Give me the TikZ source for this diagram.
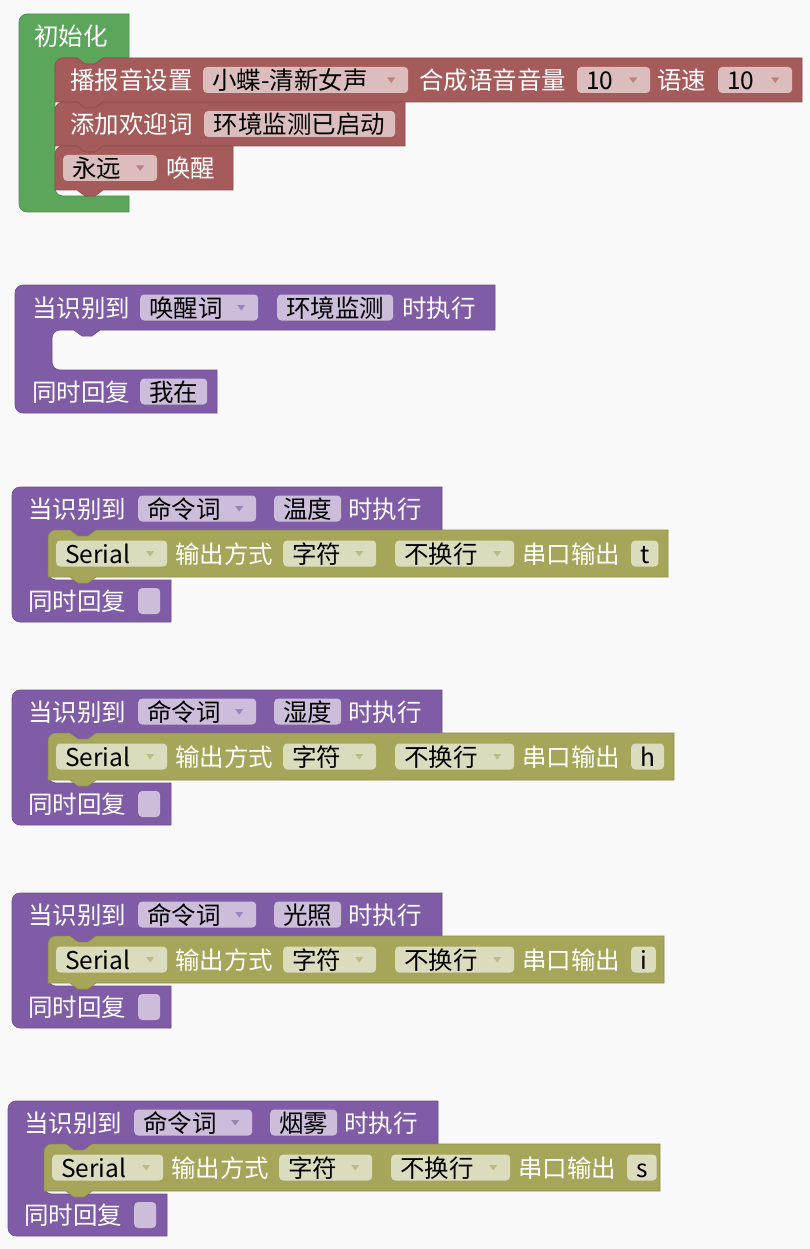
\documentclass[tikz,border=0pt]{standalone}
\usepackage{fontspec}
\setmainfont{Noto Sans CJK SC}
\usepackage{xcolor}
\usetikzlibrary{calc}

\definecolor{bgc}{HTML}{F9F9F9}
\definecolor{initgreen}{HTML}{5BA65B}
\definecolor{voicered}{HTML}{A65B5B}
\definecolor{asrpurple}{HTML}{805BA6}
\definecolor{serialolive}{HTML}{A6A65B}
\colorlet{redF}{voicered!40!white}
\colorlet{purpleF}{asrpurple!40!white}
\colorlet{oliveF}{serialolive!40!white}

\newcommand{\blockfont}{\fontsize{24.5pt}{28pt}\selectfont}

% C-shaped block: colour, left, top, top-bar right, top-bar bottom,
% inner left, inner bottom, bottom-bar right, bottom
\newcommand{\ctrblock}[9]{%
	\filldraw[#1] ({#2},{-#9+8}) -- ({#2},{-#3-8}) arc[start angle=180,end angle=90,radius=8]
	-- ({#4},{-#3}) -- ({#4},{-#5}) -- ({#6+48},{-#5}) -- ({#6+40},{-#5-6})
	-- ({#6+30},{-#5-6}) -- ({#6+22},{-#5}) -- ({#6+8},{-#5})
	arc[start angle=90,end angle=180,radius=8] -- ({#6},{-#7+8})
	arc[start angle=180,end angle=270,radius=8] -- ({#8},{-#7}) -- ({#8},{-#9})
	-- ({#2+8},{-#9}) arc[start angle=270,end angle=180,radius=8] -- cycle;}

% statement block: colour, left, top, right, bottom
\newcommand{\stmtblock}[5]{%
	\filldraw[#1] ({#2},{-#3-8}) arc[start angle=180,end angle=90,radius=8]
	-- ({#2+22},{-#3}) -- ({#2+30},{-#3-6}) -- ({#2+40},{-#3-6}) -- ({#2+48},{-#3})
	-- ({#4},{-#3}) -- ({#4},{-#5}) -- ({#2+48},{-#5}) -- ({#2+40},{-#5-6})
	-- ({#2+30},{-#5-6}) -- ({#2+22},{-#5}) -- ({#2},{-#5}) -- cycle;}

\tikzset{
	greenblk/.style={fill=initgreen, draw=initgreen!85!black, line width=0.6pt},
	redblk/.style={fill=voicered, draw=voicered!85!black, line width=0.6pt},
	purpleblk/.style={fill=asrpurple, draw=asrpurple!85!black, line width=0.6pt},
	oliveblk/.style={fill=serialolive, draw=serialolive!85!black, line width=0.6pt},
	lbl/.style={anchor=west, inner sep=0pt, text=white, font=\blockfont,
		text height=20pt, text depth=1pt},
	field/.style={anchor=west, rounded corners=4pt, minimum height=26pt,
		inner xsep=9pt, inner ysep=0pt, text height=20pt, text depth=1pt,
		font=\blockfont, text=black},
	dd/.style={field, align=left, path picture={
			\fill[#1, sharp corners] ([xshift=-21pt,yshift=2.5pt]path picture bounding box.east)
			-- ++(8pt,0pt) -- ++(-4pt,-5.5pt) -- cycle;}},
	redfield/.style={field, fill=redF},
	reddd/.style={dd=voicered!60!redF, fill=redF},
	purplefield/.style={field, fill=purpleF},
	purpledd/.style={dd=asrpurple!60!purpleF, fill=purpleF},
	olivefield/.style={field, fill=oliveF},
	olivedd/.style={dd=serialolive!60!oliveF, fill=oliveF}
}

\begin{document}
\begin{tikzpicture}[x=1pt, y=1pt]
	
	\fill[bgc] (0,0) rectangle (810,-1249);
	\useasboundingbox (0,0) rectangle (810,-1249);
	
	%% -- init block
	\ctrblock{greenblk}{19}{14}{129}{58}{55}{196}{129}{212}
	\stmtblock{redblk}{55}{58}{802}{102}
	\stmtblock{redblk}{55}{102}{405}{146}
	\stmtblock{redblk}{55}{146}{233}{190}
	
	\node[lbl] (init) at (34,-36) {初始化};
	
	\node[lbl] (tts) at (70,-80) {播报音设置};
	\node[reddd, text width=187pt] (voice) at (203,-80) {小蝶-清新女声};
	\node[lbl] (vol) at (419,-80) {合成语音音量};
	\node[reddd, text width=55pt] (volv) at (577,-80) {10};
	\node[lbl] (spd) at (657,-80) {语速};
	\node[reddd, text width=56pt] (spdv) at (718,-80) {10};
	
	\node[lbl] (greet) at (70,-124) {添加欢迎词};
	\node[redfield, minimum width=191pt] (greetv) at (204,-124) {环境监测已启动};
	
	\node[reddd, text width=76pt] (mode) at (63,-168) {永远};
	\node[lbl] (wake) at (166,-168) {唤醒};
	
	%% -- wake word block
	\ctrblock{purpleblk}{15}{285}{495}{330}{52}{370}{217}{413}
	
	\node[lbl] (when0) at (32,-307.5) {当识别到};
	\node[purpledd, text width=100pt] (wtype0) at (140,-307.5) {唤醒词};
	\node[purplefield, minimum width=116pt] (wword0) at (277,-307.5) {环境监测};
	\node[lbl] (exec0) at (402,-307.5) {时执行};
	\node[lbl] (reply0) at (32,-391.5) {同时回复};
	\node[purplefield, minimum width=67pt] (rtext0) at (140,-391.5) {我在};
	
	%% -- command word blocks
	\foreach \dy/\dx/\kw/\ch/\cw/\ox [count=\i] in
	{0/0/温度/t/24/668, 203/0/湿度/h/30/674, 406/0/光照/i/22/664, 614/-4/烟雾/s/28/664}{
		\begin{scope}[shift={(\dx,-\dy)}]
			\ctrblock{purpleblk}{12}{487}{442}{530}{48}{580}{171}{622}
			\stmtblock{oliveblk}{48}{530}{\ox}{577}
			
			\node[lbl] (when\i) at (28,-508.5) {当识别到};
			\node[purpledd, text width=100pt] (wtype\i) at (138,-508.5) {命令词};
			\node[purplefield, minimum width=66pt] (wword\i) at (274,-508.5) {\kw};
			\node[lbl] (exec\i) at (348,-508.5) {时执行};
			
			\node[olivedd, text width=93pt] (port\i) at (56,-553.5) {Serial};
			\node[lbl] (fmt\i) at (175,-553.5) {输出方式};
			\node[olivedd, text width=75pt] (fmtv\i) at (283,-553.5) {字符};
			\node[olivedd, text width=101pt] (nl\i) at (395,-553.5) {不换行};
			\node[lbl] (out\i) at (522,-553.5) {串口输出};
			\node[olivefield, minimum width=\cw pt] (outv\i) at (631,-553.5) {\ch};
			
			\node[lbl] (reply\i) at (28,-601) {同时回复};
			\node[purplefield, minimum width=22pt] (rtext\i) at (138,-601) {};
		\end{scope}
	}
	
\end{tikzpicture}
\end{document}
